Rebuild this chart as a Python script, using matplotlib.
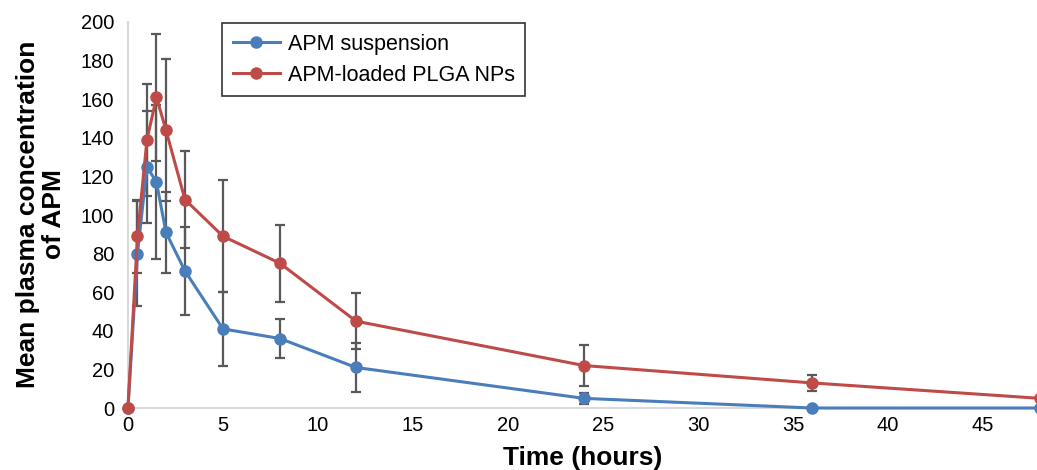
import matplotlib
matplotlib.use("Agg")
import matplotlib.pyplot as plt
import numpy as np

# ==== data ====
time_h = [0, 0.5, 1, 1.5, 2, 3, 5, 8, 12, 24, 36, 48]
susp = [0, 80, 125, 117, 91, 71, 41, 36, 21, 5, 0, 0]
susp_err = [0, 27, 29, 40, 21, 23, 19, 10, 12.5, 3, 0, 0]
nps = [0, 89, 139, 161, 144, 108, 89, 75, 45, 22, 13, 5]
nps_err = [0, 19, 29, 33, 37, 25, 29, 20, 14.5, 10.5, 4, 0]
labels = ["APM suspension", "APM-loaded PLGA NPs"]
y_ticks = [0, 20, 40, 60, 80, 100, 120, 140, 160, 180, 200]
x_ticks = [0, 5, 10, 15, 20, 25, 30, 35, 40, 45]

plt.rcParams["font.family"] = ["Liberation Sans", "DejaVu Sans"]

BLUE = "#4a7ebb"
RED = "#be4b48"
ERR = "#595959"

fig = plt.figure(figsize=(10.37, 4.70), dpi=100)
ax = fig.add_axes([0.1234, 0.1319, 0.8766, 0.8213])

t = np.array(time_h)
series = [
    (np.array(susp), np.array(susp_err), BLUE),
    (np.array(nps), np.array(nps_err), RED),
]

# error bars first (behind the lines)
for y, e, c in series:
    m = e > 0
    ax.errorbar(t[m], y[m], yerr=e[m], fmt="none", ecolor=ERR,
                elinewidth=1.6, capsize=3.8, capthick=1.6, zorder=2)

for (y, e, c), lab in zip(series, labels):
    ax.plot(t, y, color=c, linewidth=2.2, marker="o", markersize=8,
            label=lab, zorder=3, clip_on=False)

ax.set_xlim(0, 47.84)
ax.set_ylim(0, 200)
ax.set_xticks(x_ticks)
ax.set_yticks(y_ticks)
ax.tick_params(axis="both", length=0, labelsize=14.5)
ax.tick_params(axis="y", pad=10)
ax.tick_params(axis="x", pad=6)

for s in ["top", "right"]:
    ax.spines[s].set_visible(False)
for s in ["left", "bottom"]:
    ax.spines[s].set_color("#d9d9d9")
    ax.spines[s].set_linewidth(1.5)

ax.set_xlabel("Time (hours)", fontsize=19, fontweight="bold")
ax.xaxis.set_label_coords(0.5, -0.098)
fig.text(41 / 1037, 0.545, "Mean plasma concentration\nof APM", rotation=90,
         ha="center", va="center", fontsize=19, fontweight="bold",
         linespacing=1.15)

leg = ax.legend(loc="upper left", bbox_to_anchor=(0.1034, 0.997),
                fontsize=15.5, frameon=True, fancybox=False,
                handlelength=2.2, handletextpad=0.35, labelspacing=0.45,
                borderpad=0.5, borderaxespad=0)
leg.get_frame().set_edgecolor("black")
leg.get_frame().set_linewidth(1.2)

fig.savefig("out.png", dpi=100)
